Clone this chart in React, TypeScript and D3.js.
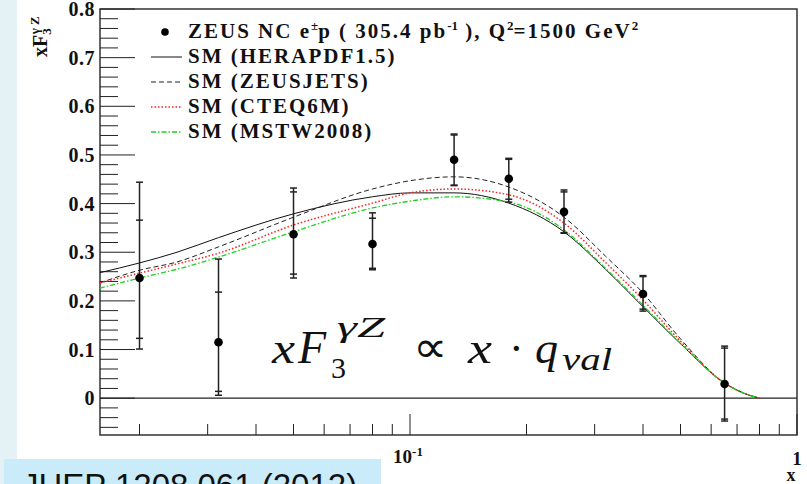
import React from 'react';
import * as d3 from 'd3';

// ZEUS data points
const dataX = [0.02, 0.032, 0.05, 0.08, 0.13, 0.18, 0.25, 0.40, 0.65];
const dataY = [0.247, 0.115, 0.337, 0.317, 0.490, 0.451, 0.383, 0.214, 0.029];
const statUp = [0.119, 0.103, 0.087, 0.053, 0.051, 0.040, 0.041, 0.036, 0.074];
const statDn = [0.124, 0.101, 0.082, 0.050, 0.052, 0.042, 0.043, 0.031, 0.072];
const totUp = [0.197, 0.171, 0.095, 0.064, 0.053, 0.042, 0.045, 0.038, 0.078];
const totDn = [0.146, 0.109, 0.090, 0.053, 0.053, 0.048, 0.044, 0.035, 0.076];

// SM predictions
const curveX = [0.0158, 0.02, 0.025, 0.032, 0.05, 0.08, 0.1, 0.13, 0.18, 0.25, 0.32, 0.4, 0.5, 0.65, 0.72, 0.8];
const hera = [0.258, 0.278, 0.300, 0.330, 0.379, 0.414, 0.422, 0.422, 0.401, 0.342, 0.265, 0.188, 0.112, 0.031, 0.012, 0.0];
const zeusjets = [0.237, 0.263, 0.280, 0.311, 0.372, 0.430, 0.447, 0.455, 0.434, 0.372, 0.292, 0.216, 0.122, 0.031, 0.012, 0.0];
const cteq = [0.237, 0.257, 0.276, 0.298, 0.356, 0.401, 0.422, 0.430, 0.418, 0.360, 0.279, 0.202, 0.117, 0.031, 0.012, 0.0];
const mstw = [0.226, 0.247, 0.265, 0.290, 0.342, 0.391, 0.405, 0.414, 0.403, 0.346, 0.267, 0.191, 0.113, 0.031, 0.012, 0.0];

const legendLabels = ['SM (HERAPDF1.5)', 'SM (ZEUSJETS)', 'SM (CTEQ6M)', 'SM (MSTW2008)'];
const yTickLabels = ['0', '0.1', '0.2', '0.3', '0.4', '0.5', '0.6', '0.7', '0.8'];

const W = 807;
const H = 484;
const left = 100, right = 797, top = 9, bottom = 435;
const serif = '"Liberation Serif", "Times New Roman", serif';

const App = () => {
  const x = d3.scaleLog().domain([0.01581, 1]).range([left, right]);
  const y = d3.scaleLinear().domain([-0.0757, 0.8]).range([bottom, top]);

  const series = [
    { vals: hera, color: '#111', dash: null, width: 1 },
    { vals: zeusjets, color: '#222', dash: '5,3', width: 1 },
    { vals: cteq, color: '#ff2020', dash: '1.5,2', width: 1.5 },
    { vals: mstw, color: '#1ed21e', dash: '5,2,1.5,2', width: 1.3 },
  ];

  const line = d3.line<number>()
    .x((_, i) => x(curveX[i]))
    .y(d => y(d))
    .curve(d3.curveMonotoneX);

  // y ticks every 0.02
  const yTicks = d3.range(-3, 41).map(k => k * 0.02);
  // x minor ticks
  const xMinor = [0.02, 0.03, 0.04, 0.05, 0.06, 0.07, 0.08, 0.09, 0.2, 0.3, 0.4, 0.5, 0.6, 0.7, 0.8, 0.9];
  const xMajor = [0.1, 1];

  const cap = 3.5;

  return (
    <svg width={W} height={H} style={{ position: 'absolute', left: 0, top: 0, background: '#fff' }}>
      <rect x={0} y={0} width={17} height={H} fill="#e4f1f5" />

      {/* frame */}
      <rect x={left} y={top} width={right - left} height={bottom - top} fill="none" stroke="#333" strokeWidth={1.5} />
      {/* zero line */}
      <line x1={left} x2={right} y1={y(0)} y2={y(0)} stroke="#222" strokeWidth={1.2} />

      {/* y ticks */}
      {yTicks.map((v, i) => {
        const major = Math.abs(Math.round(v * 10) - v * 10) < 1e-6;
        return (
          <line key={'yt' + i} x1={left} x2={left + (major ? 35 : 18)} y1={y(v)} y2={y(v)} stroke="#222" strokeWidth={1} />
        );
      })}
      {yTickLabels.map((t, i) => (
        <text key={'yl' + i} x={95} y={y(i * 0.1)} dy="0.35em" textAnchor="end"
          fontFamily={serif} fontWeight="bold" fontSize={20} letterSpacing={0.5} fill="#111">{t}</text>
      ))}

      {/* x ticks */}
      {xMinor.map((v, i) => (
        <line key={'xm' + i} x1={x(v)} x2={x(v)} y1={bottom} y2={bottom - 11} stroke="#222" strokeWidth={1} />
      ))}
      {xMajor.map((v, i) => (
        <line key={'xM' + i} x1={x(v)} x2={x(v)} y1={bottom} y2={bottom - 21} stroke="#222" strokeWidth={1} />
      ))}
      <text x={x(0.1) - 2} y={463} textAnchor="middle" fontFamily={serif} fontWeight="bold" fontSize={19} fill="#111">
        10<tspan dy={-7} fontSize={13}>-1</tspan>
      </text>
      <text x={x(1)} y={465} textAnchor="middle" fontFamily={serif} fontWeight="bold" fontSize={19} fill="#111">1</text>
      <text x={791} y={481} textAnchor="middle" fontFamily={serif} fontWeight="bold" fontSize={18} fill="#111">x</text>

      {/* y title */}
      <text transform="translate(47,57) rotate(-90)" textAnchor="start" fontFamily={serif} fontWeight="bold" fontSize={20} fill="#111">
        xF<tspan fontSize={13} dy={4}>3</tspan><tspan fontSize={13} dy={-12} dx={-6}>γ Z</tspan>
      </text>

      {/* curves */}
      {series.map((s, i) => (
        <path key={'c' + i} d={line(s.vals) || ''} fill="none" stroke={s.color} strokeWidth={s.width}
          strokeDasharray={s.dash || undefined} />
      ))}

      {/* data points */}
      {dataX.map((xv, i) => {
        const cx = x(xv);
        const yt = y(dataY[i] + totUp[i]);
        const yb = y(dataY[i] - totDn[i]);
        const st = y(dataY[i] + statUp[i]);
        const sb = y(dataY[i] - statDn[i]);
        return (
          <g key={'p' + i} stroke="#222" strokeWidth={1.5}>
            <line x1={cx} x2={cx} y1={yt} y2={yb} />
            <line x1={cx - cap} x2={cx + cap} y1={yt} y2={yt} />
            <line x1={cx - cap} x2={cx + cap} y1={yb} y2={yb} />
            <line x1={cx - cap} x2={cx + cap} y1={st} y2={st} />
            <line x1={cx - cap} x2={cx + cap} y1={sb} y2={sb} />
            <circle cx={cx} cy={y(dataY[i])} r={4.3} fill="#000" stroke="none" />
          </g>
        );
      })}

      {/* legend */}
      <circle cx={165} cy={32} r={3.8} fill="#000" />
      <text x={188} y={38} fontFamily={serif} fontWeight="bold" fontSize={21} letterSpacing={2} fill="#111">
        ZEUS NC e<tspan dy={-8} fontSize={13} letterSpacing={0}>±</tspan><tspan dy={8}>p ( 305.4 pb</tspan><tspan dy={-8} fontSize={13} letterSpacing={0}>-1</tspan><tspan dy={8}> ), Q</tspan><tspan dy={-8} fontSize={13} letterSpacing={0}>2</tspan><tspan dy={8}>=1500 GeV</tspan><tspan dy={-8} fontSize={13}>2</tspan>
      </text>
      {legendLabels.map((l, i) => (
        <g key={'lg' + i}>
          <line x1={151} x2={182} y1={57 + i * 25} y2={57 + i * 25} stroke={series[i].color}
            strokeWidth={series[i].width} strokeDasharray={series[i].dash || undefined} />
          <text x={188} y={63 + i * 25} fontFamily={serif} fontWeight="bold" fontSize={21} letterSpacing={2} fill="#111">{l}</text>
        </g>
      ))}

      {/* formula */}
      <g fontFamily={serif} fontStyle="italic" fill="#111">
        <text x={272} y={363} fontSize={44} textLength={23} lengthAdjust="spacingAndGlyphs">x</text>
        <text x={298} y={363} fontSize={46}>F</text>
        <text x={331} y={378} fontSize={30} fontStyle="normal">3</text>
        <text x={337} y={337} fontSize={30} textLength={48} lengthAdjust="spacingAndGlyphs">γZ</text>
        <text x={413} y={362} fontSize={44} fontStyle="normal" textLength={34} lengthAdjust="spacingAndGlyphs">∝</text>
        <text x={468} y={363} fontSize={44} textLength={24} lengthAdjust="spacingAndGlyphs">x</text>
        <text x={509} y={363} fontSize={44} fontStyle="normal">·</text>
        <text x={535} y={363} fontSize={44} textLength={23} lengthAdjust="spacingAndGlyphs">q</text>
        <text x={562} y={370} fontSize={31} textLength={50} lengthAdjust="spacingAndGlyphs">val</text>
      </g>

      {/* reference box */}
      <rect x={4} y={459} width={377} height={30} fill="#c9ebfa" />
      <text x={22} y={497} fontFamily='"Liberation Sans", Arial, sans-serif' fontSize={33} fill="#111">JHEP 1208 061 (2012)</text>
    </svg>
  );
};

export default App;
